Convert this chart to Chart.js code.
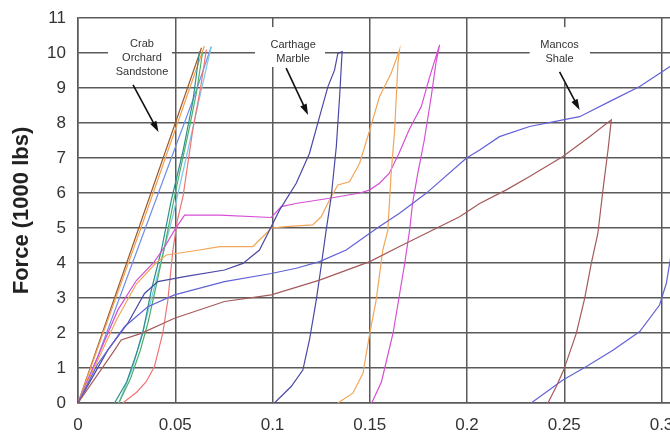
<!DOCTYPE html>
<html>
<head>
<meta charset="utf-8">
<script src="https://cdn.jsdelivr.net/npm/chart.js@4/dist/chart.umd.min.js"></script>
<style>
  html, body { margin: 0; padding: 0; background: #fff; overflow: hidden; }
  #wrap { width: 720px; height: 439px; }
</style>
</head>
<body>
<div id="wrap"><canvas id="grafico"></canvas></div>
<script>
// Eixos
const xTicks = [0, 0.05, 0.1, 0.15, 0.2, 0.25, 0.3];
const xTickLabels = ["0", "0.05", "0.1", "0.15", "0.2", "0.25", "0.3"];
const yTicks = [0, 1, 2, 3, 4, 5, 6, 7, 8, 9, 10, 11];

// Crab Orchard Sandstone  [deslocamento, força]
const crabBrown = [[0, 0], [0.0325, 5.2], [0.0635, 10.15]];
const crabOrange = [[0, 0], [0.033, 5.1], [0.065, 10.2]];
const crabBlue = [[0, 0], [0.01, 1.3], [0.02, 2.8], [0.03, 4.3], [0.04, 5.8], [0.05, 7.3], [0.06, 8.8], [0.0685, 10.18]];
const crabCyan = [[0.021, 0], [0.028, 1.0], [0.035, 2.4], [0.042, 3.9], [0.049, 5.4], [0.056, 7.1], [0.062, 8.6], [0.0685, 10.18]];
const crabTeal = [[0.0188, 0], [0.025, 0.6], [0.03, 1.4], [0.0333, 2.0], [0.0376, 3.2], [0.043, 4.4], [0.048, 5.8], [0.054, 7.2], [0.059, 8.6], [0.0625, 10.05]];
const crabGreen = [[0.021, 0], [0.027, 0.7], [0.032, 1.5], [0.036, 2.3], [0.04, 3.3], [0.045, 4.6], [0.05, 6.0], [0.0574, 7.9], [0.061, 8.9], [0.064, 10.0]];
const crabRed = [[0.023, 0], [0.03, 0.3], [0.035, 0.6], [0.0393, 1.04], [0.0436, 2.0], [0.0462, 2.94], [0.0488, 4.37], [0.051, 5.2], [0.054, 5.9], [0.059, 7.8], [0.063, 9.0], [0.066, 10.1]];

// Carthage Marble
const marbleMagenta = [[0, 0], [0.01, 1.3], [0.0205, 2.66], [0.03, 3.5], [0.0393, 4.04], [0.045, 4.5], [0.0496, 4.94], [0.0548, 5.37],
  [0.0728, 5.37], [0.0994, 5.3], [0.1045, 5.61], [0.112, 5.7], [0.1293, 5.85], [0.145, 6.0], [0.15, 6.09], [0.155, 6.28],
  [0.16, 6.56], [0.165, 7.13], [0.1702, 7.8], [0.1765, 8.47], [0.1808, 9.32], [0.1859, 10.23],
  [0.184, 9.7], [0.1816, 8.75], [0.178, 7.5], [0.1747, 6.56], [0.172, 5.7], [0.1705, 4.94], [0.168, 4.0],
  [0.165, 3.0], [0.162, 2.0], [0.159, 1.3], [0.156, 0.6], [0.151, 0]];
const marbleOrange = [[0, 0], [0.01, 1.2], [0.02, 2.4], [0.03, 3.4], [0.04, 4.0], [0.0454, 4.23], [0.06, 4.35], [0.0728, 4.47],
  [0.0899, 4.47], [0.095, 4.75], [0.0994, 5.0], [0.107, 5.04], [0.1207, 5.09], [0.125, 5.32], [0.1293, 5.8], [0.1336, 6.23],
  [0.1396, 6.32], [0.1448, 6.85], [0.15, 7.8], [0.155, 8.75], [0.161, 9.42], [0.1653, 10.09],
  [0.1645, 9.7], [0.1628, 7.8], [0.161, 6.56], [0.1593, 4.94], [0.1567, 4.37], [0.1533, 2.94], [0.15, 1.99],
  [0.1465, 0.85], [0.1413, 0.28], [0.1336, 0]];
const marblePurple = [[0, 0], [0.0153, 1.51], [0.0256, 2.28], [0.0342, 3.13], [0.041, 3.47], [0.0548, 3.61], [0.0753, 3.8],
  [0.0848, 3.99], [0.0933, 4.37], [0.0985, 4.94], [0.1036, 5.51], [0.1122, 6.28], [0.119, 7.13], [0.1242, 8.18],
  [0.1285, 9.04], [0.1319, 9.51], [0.1336, 9.99], [0.1358, 10.04],
  [0.1345, 8.75], [0.1328, 7.32], [0.1302, 5.9], [0.1276, 4.94], [0.125, 3.9], [0.1225, 2.94], [0.119, 1.8],
  [0.1156, 0.94], [0.1096, 0.47], [0.101, 0]];

// Mancos Shale
const shaleBlue = [[0, 0], [0.01, 1.1], [0.0239, 2.18], [0.0359, 2.75], [0.0496, 3.09], [0.0753, 3.47], [0.0994, 3.7],
  [0.1122, 3.85], [0.1242, 4.04], [0.1379, 4.37], [0.15, 4.85], [0.155, 5.04], [0.1653, 5.42], [0.179, 5.99],
  [0.1996, 6.99], [0.2065, 7.23], [0.2167, 7.61], [0.2322, 7.9], [0.2493, 8.09], [0.2579, 8.18], [0.275, 8.66],
  [0.2888, 9.04], [0.3042, 9.61], [0.315, 10.1]];
const shaleBlueUnload = [[0.233, 0], [0.2493, 0.66], [0.2614, 1.04], [0.275, 1.51], [0.2888, 2.04], [0.299, 2.8],
  [0.3025, 3.42], [0.3042, 3.99], [0.308, 5.2], [0.312, 6.5]];
const shaleBrown = [[0, 0], [0.0188, 1.51], [0.0222, 1.8], [0.0325, 1.99], [0.0496, 2.42], [0.0753, 2.9], [0.0994, 3.09],
  [0.1242, 3.51], [0.15, 4.04], [0.1653, 4.47], [0.1962, 5.32], [0.2065, 5.7], [0.2202, 6.09], [0.2322, 6.47],
  [0.2493, 7.04], [0.263, 7.61], [0.2742, 8.09],
  [0.2725, 7.23], [0.2699, 6.09], [0.2673, 4.85], [0.2639, 3.99], [0.2605, 2.99], [0.2562, 1.99], [0.2497, 0.94],
  [0.2459, 0.47], [0.2416, 0]];

const ponto = (p) => ({ x: p[0], y: p[1] });
const serie = (dados, cor) => ({
  data: dados.map(ponto),
  borderColor: cor,
  borderWidth: 1.2,
  pointRadius: 0,
  showLine: true,
  fill: false,
  tension: 0,
});

// Rótulos com setas
const notas = [
  { linhas: ["Crab", "Orchard", "Sandstone"], tx: 0.0329, ty: 10.26, caixa: [0.0154, 0.0483, 10.66, 9.17], seta: [0.0283, 9.09, 0.0414, 7.74] },
  { linhas: ["Carthage", "Marble"], tx: 0.1106, ty: 10.23, caixa: [0.091, 0.127, 10.74, 9.6], seta: [0.107, 9.57, 0.1183, 8.23] },
  { linhas: ["Mancos", "Shale"], tx: 0.2476, ty: 10.23, caixa: [0.2322, 0.2632, 10.74, 9.14], seta: [0.2476, 9.46, 0.2579, 8.37] },
];

const pluginNotas = {
  id: "notas",
  beforeDatasetsDraw(chart) {
    const { ctx, scales: { x, y } } = chart;
    ctx.save();
    ctx.fillStyle = "#fff";
    notas.forEach((n) => {
      const x0 = x.getPixelForValue(n.caixa[0]), x1 = x.getPixelForValue(n.caixa[1]);
      const y0 = y.getPixelForValue(n.caixa[2]), y1 = y.getPixelForValue(n.caixa[3]);
      ctx.fillRect(x0, y0, x1 - x0, y1 - y0);
    });
    ctx.restore();
  },
  afterDatasetsDraw(chart) {
    const { ctx, scales: { x, y } } = chart;
    ctx.save();
    ctx.font = "11px 'Liberation Sans', Arial, sans-serif";
    ctx.fillStyle = "#333";
    ctx.textAlign = "center";
    ctx.textBaseline = "middle";
    notas.forEach((n) => {
      const cx = x.getPixelForValue(n.tx), cy = y.getPixelForValue(n.ty);
      n.linhas.forEach((t, i) => ctx.fillText(t, cx, cy + i * 14));
      const ax = x.getPixelForValue(n.seta[0]), ay = y.getPixelForValue(n.seta[1]);
      const bx = x.getPixelForValue(n.seta[2]), by = y.getPixelForValue(n.seta[3]);
      const ang = Math.atan2(by - ay, bx - ax);
      ctx.strokeStyle = "#111";
      ctx.lineWidth = 1.6;
      ctx.beginPath();
      ctx.moveTo(ax, ay);
      ctx.lineTo(bx - 8 * Math.cos(ang), by - 8 * Math.sin(ang));
      ctx.stroke();
      ctx.fillStyle = "#111";
      ctx.beginPath();
      ctx.moveTo(bx, by);
      ctx.lineTo(bx - 11 * Math.cos(ang) + 3.5 * Math.sin(ang), by - 11 * Math.sin(ang) - 3.5 * Math.cos(ang));
      ctx.lineTo(bx - 11 * Math.cos(ang) - 3.5 * Math.sin(ang), by - 11 * Math.sin(ang) + 3.5 * Math.cos(ang));
      ctx.closePath();
      ctx.fill();
      ctx.fillStyle = "#333";
    });
    ctx.restore();
  },
};

Chart.defaults.font.family = "'Liberation Sans', Arial, sans-serif";

new Chart(document.getElementById("grafico"), {
  type: "scatter",
  data: {
    datasets: [
      serie(shaleBrown, "#a55a5a"),
      serie(shaleBlue, "#6262d6"),
      serie(shaleBlueUnload, "#6262d6"),
      serie(marblePurple, "#4a48a6"),
      serie(marbleOrange, "#f2a65a"),
      serie(marbleMagenta, "#d64fd6"),
      serie(crabRed, "#ef7575"),
      serie(crabGreen, "#4caf6a"),
      serie(crabTeal, "#2f8f8f"),
      serie(crabCyan, "#7cc8e8"),
      serie(crabBlue, "#6f8fe8"),
      serie(crabOrange, "#f0a050"),
      serie(crabBrown, "#9c5a2c"),
    ],
  },
  options: {
    responsive: true,
    maintainAspectRatio: false,
    animation: false,
    layout: { padding: { left: 0, top: 18, right: 19.6, bottom: 0 } },
    plugins: { legend: { display: false }, tooltip: { enabled: false } },
    scales: {
      x: {
        type: "linear",
        min: 0,
        max: 0.32,
        afterBuildTicks: (s) => { s.ticks = xTicks.map((v) => ({ value: v })); },
        afterFit: (s) => { s.height = 36; s.paddingLeft = 0; s.paddingRight = 0; },
        ticks: {
          callback: (v, i) => xTickLabels[i],
          font: { size: 17 },
          color: "#333",
          padding: 12,
          maxRotation: 0,
        },
        grid: { color: "#5a5a5a", lineWidth: 1.5, drawTicks: false },
        border: { color: "#5a5a5a", width: 1.5 },
      },
      y: {
        min: 0,
        max: 11,
        afterBuildTicks: (s) => { s.ticks = yTicks.map((v) => ({ value: v })); },
        afterFit: (s) => { s.width = 78; s.paddingTop = 0; s.paddingBottom = 0; },
        ticks: { font: { size: 17 }, color: "#333", padding: 12 },
        grid: { color: "#5a5a5a", lineWidth: 1.5, drawTicks: false },
        border: { color: "#5a5a5a", width: 1.5 },
        title: {
          display: true,
          text: "Force (1000 lbs)",
          font: { size: 22, weight: "bold" },
          color: "#222",
          padding: { top: 9, bottom: 0 },
        },
      },
    },
  },
  plugins: [pluginNotas],
});
</script>
</body>
</html>
